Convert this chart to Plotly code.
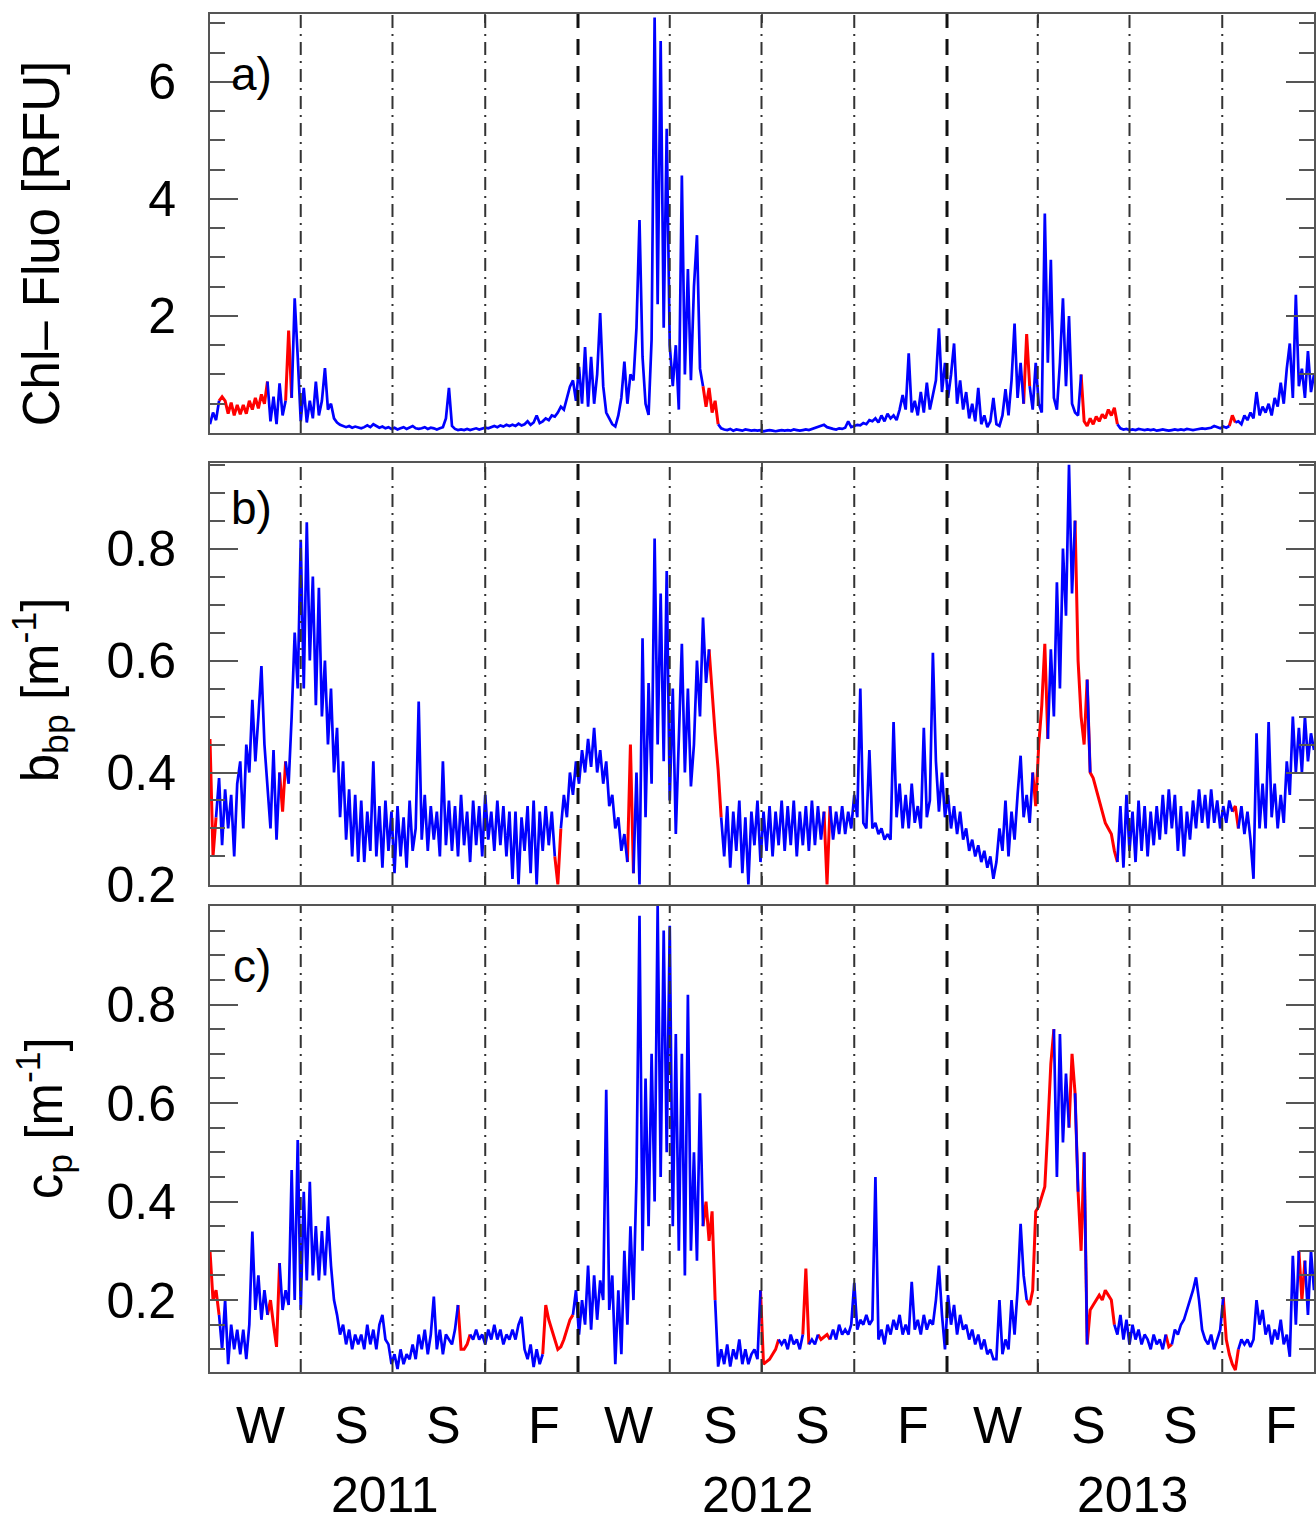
import datetime as dt
import plotly.graph_objects as go

# ---------------------------------------------------------------------------
# Time series, one sample every 3 days starting 2011-01-01 (366 samples)
# ---------------------------------------------------------------------------
SERIES_START = dt.date(2011, 1, 1)
STEP_DAYS = 3

# Chlorophyll fluorescence [RFU]
chl_fluo = [
    0.15, 0.35, 0.22, 0.55, 0.62, 0.55, 0.33, 0.52, 0.30, 0.48,
    0.32, 0.48, 0.33, 0.55, 0.40, 0.60, 0.42, 0.66, 0.50, 0.88,
    0.20, 0.62, 0.15, 0.85, 0.30, 0.55, 1.75, 0.60, 2.30, 1.30,
    0.20, 0.77, 0.18, 0.55, 0.25, 0.88, 0.30, 0.55, 1.11, 0.40,
    0.50, 0.25, 0.18, 0.14, 0.12, 0.10, 0.12, 0.09, 0.11, 0.10,
    0.08, 0.10, 0.13, 0.10, 0.15, 0.12, 0.09, 0.11, 0.08, 0.10,
    0.07, 0.09, 0.06, 0.08, 0.10, 0.07, 0.09, 0.12, 0.08, 0.07,
    0.08, 0.10, 0.07, 0.09, 0.08, 0.06, 0.08, 0.10, 0.25, 0.77,
    0.12, 0.07, 0.05, 0.06, 0.05, 0.07, 0.05, 0.06, 0.08, 0.06,
    0.07, 0.09, 0.08, 0.10, 0.12, 0.10, 0.13, 0.11, 0.14, 0.12,
    0.14, 0.12, 0.16, 0.13, 0.15, 0.20, 0.14, 0.18, 0.30, 0.17,
    0.20, 0.25, 0.22, 0.30, 0.28, 0.35, 0.45, 0.40, 0.60, 0.79,
    0.90, 0.55, 1.13, 0.50, 1.47, 0.45, 1.30, 0.50, 1.00, 2.05,
    0.80, 0.35, 0.25, 0.15, 0.11, 0.30, 0.60, 1.22, 0.50, 1.00,
    0.90, 1.80, 3.64, 1.30, 0.50, 0.31, 1.60, 7.10, 2.20, 6.70,
    1.80, 5.20, 1.50, 0.80, 1.50, 0.40, 4.40, 1.00, 2.80, 0.90,
    2.50, 3.38, 1.10, 0.80, 0.45, 0.77, 0.35, 0.55, 0.15, 0.08,
    0.06, 0.05, 0.07, 0.04, 0.06, 0.05, 0.04, 0.06, 0.05, 0.04,
    0.05, 0.04, 0.05, 0.03, 0.04, 0.05, 0.04, 0.03, 0.04, 0.05,
    0.04, 0.05, 0.04, 0.06, 0.05, 0.04, 0.05, 0.06, 0.05, 0.07,
    0.08, 0.10, 0.12, 0.14, 0.10, 0.08, 0.07, 0.06, 0.08, 0.07,
    0.09, 0.20, 0.10, 0.12, 0.14, 0.13, 0.17, 0.15, 0.22, 0.20,
    0.25, 0.18, 0.30, 0.20, 0.33, 0.25, 0.30, 0.22, 0.40, 0.65,
    0.40, 1.36, 0.35, 0.55, 0.30, 0.70, 0.35, 0.86, 0.40, 0.65,
    0.90, 1.79, 0.70, 1.20, 0.60, 1.00, 1.53, 0.50, 0.90, 0.40,
    0.70, 0.25, 0.50, 0.20, 0.77, 0.15, 0.30, 0.10, 0.20, 0.60,
    0.15, 0.12, 0.30, 0.75, 0.30, 0.90, 1.87, 0.60, 1.20, 0.50,
    1.69, 0.80, 0.40, 1.20, 0.50, 0.35, 3.75, 1.20, 2.96, 0.60,
    0.40, 1.20, 2.30, 0.80, 2.00, 0.50, 0.35, 0.30, 1.00, 0.20,
    0.12, 0.25, 0.15, 0.28, 0.20, 0.32, 0.25, 0.40, 0.30, 0.43,
    0.15, 0.08, 0.06, 0.07, 0.05, 0.06, 0.05, 0.07, 0.06, 0.05,
    0.06, 0.05, 0.06, 0.04, 0.05, 0.06, 0.05, 0.04, 0.05, 0.06,
    0.05, 0.06, 0.05, 0.07, 0.06, 0.05, 0.06, 0.07, 0.08, 0.07,
    0.08, 0.09, 0.12, 0.10, 0.08, 0.11, 0.09, 0.12, 0.30, 0.18,
    0.20, 0.15, 0.30, 0.22, 0.35, 0.25, 0.70, 0.30, 0.45, 0.35,
    0.50, 0.30, 0.60, 0.45, 0.86, 0.50, 1.10, 1.53, 0.60, 2.36,
    0.80, 1.10, 0.60, 1.40, 0.70, 1.00,
]

# Particulate backscattering b_bp [m^-1]
bbp = [
    0.46, 0.25, 0.32, 0.39, 0.27, 0.37, 0.30, 0.36, 0.25, 0.38,
    0.42, 0.30, 0.45, 0.40, 0.53, 0.42, 0.50, 0.59, 0.45, 0.38,
    0.30, 0.44, 0.28, 0.40, 0.33, 0.42, 0.38, 0.50, 0.65, 0.55,
    0.816, 0.55, 0.847, 0.60, 0.75, 0.52, 0.73, 0.50, 0.60, 0.45,
    0.55, 0.40, 0.48, 0.32, 0.42, 0.28, 0.37, 0.25, 0.36, 0.24,
    0.35, 0.24, 0.33, 0.26, 0.42, 0.25, 0.34, 0.23, 0.35, 0.26,
    0.33, 0.22, 0.34, 0.25, 0.32, 0.23, 0.35, 0.26, 0.30, 0.527,
    0.28, 0.36, 0.26, 0.34, 0.28, 0.33, 0.25, 0.42, 0.27, 0.35,
    0.26, 0.34, 0.25, 0.36, 0.27, 0.33, 0.24, 0.35, 0.27, 0.34,
    0.25, 0.36, 0.28, 0.33, 0.26, 0.35, 0.27, 0.34, 0.25, 0.33,
    0.21, 0.33, 0.20, 0.32, 0.26, 0.34, 0.22, 0.35, 0.20, 0.33,
    0.26, 0.34, 0.27, 0.33, 0.25, 0.20, 0.30, 0.36, 0.32, 0.40,
    0.36, 0.42, 0.38, 0.44, 0.40, 0.46, 0.41, 0.48, 0.40, 0.44,
    0.38, 0.42, 0.34, 0.36, 0.30, 0.32, 0.26, 0.29, 0.24, 0.45,
    0.22, 0.40, 0.20, 0.64, 0.32, 0.56, 0.38, 0.818, 0.45, 0.72,
    0.42, 0.76, 0.35, 0.55, 0.29, 0.48, 0.63, 0.40, 0.55, 0.375,
    0.45, 0.60, 0.50, 0.677, 0.56, 0.62, 0.54, 0.47, 0.405, 0.32,
    0.25, 0.34, 0.23, 0.33, 0.26, 0.35, 0.22, 0.32, 0.20, 0.33,
    0.27, 0.35, 0.24, 0.33, 0.26, 0.34, 0.25, 0.33, 0.27, 0.35,
    0.26, 0.34, 0.27, 0.35, 0.25, 0.33, 0.27, 0.34, 0.26, 0.35,
    0.27, 0.34, 0.28, 0.33, 0.20, 0.34, 0.28, 0.33, 0.29, 0.34,
    0.29, 0.33, 0.30, 0.36, 0.32, 0.55, 0.31, 0.30, 0.44, 0.30,
    0.31, 0.29, 0.30, 0.28, 0.29, 0.28, 0.49, 0.32, 0.38, 0.30,
    0.36, 0.30, 0.38, 0.31, 0.34, 0.30, 0.48, 0.32, 0.35, 0.614,
    0.42, 0.33, 0.40, 0.32, 0.36, 0.30, 0.34, 0.29, 0.33, 0.28,
    0.30, 0.26, 0.28, 0.25, 0.27, 0.24, 0.26, 0.23, 0.25, 0.21,
    0.24, 0.30, 0.26, 0.35, 0.25, 0.33, 0.28, 0.36, 0.43, 0.32,
    0.36, 0.31, 0.40, 0.34, 0.45, 0.52, 0.63, 0.46, 0.62, 0.50,
    0.74, 0.55, 0.80, 0.68, 0.95, 0.72, 0.85, 0.60, 0.50, 0.45,
    0.566, 0.40, 0.39, 0.37, 0.35, 0.33, 0.31, 0.30, 0.29, 0.26,
    0.24, 0.34, 0.23, 0.36, 0.26, 0.33, 0.24, 0.35, 0.26, 0.34,
    0.25, 0.33, 0.27, 0.34, 0.28, 0.36, 0.29, 0.37, 0.30, 0.36,
    0.26, 0.34, 0.25, 0.33, 0.28, 0.35, 0.30, 0.37, 0.31, 0.36,
    0.30, 0.37, 0.31, 0.35, 0.30, 0.34, 0.31, 0.35, 0.33, 0.34,
    0.30, 0.34, 0.29, 0.33, 0.28, 0.21, 0.47, 0.30, 0.38, 0.30,
    0.49, 0.32, 0.38, 0.30, 0.36, 0.31, 0.42, 0.36, 0.50, 0.40,
    0.48, 0.40, 0.50, 0.42, 0.47, 0.44,
]

# Particulate beam attenuation c_p [m^-1]
cp = [
    0.30, 0.20, 0.22, 0.17, 0.10, 0.20, 0.07, 0.15, 0.10, 0.14,
    0.09, 0.14, 0.08, 0.15, 0.339, 0.18, 0.25, 0.16, 0.22, 0.17,
    0.20, 0.15, 0.105, 0.275, 0.18, 0.22, 0.19, 0.464, 0.20, 0.525,
    0.18, 0.42, 0.24, 0.44, 0.25, 0.35, 0.24, 0.34, 0.25, 0.37,
    0.27, 0.20, 0.17, 0.13, 0.15, 0.11, 0.14, 0.10, 0.13, 0.11,
    0.13, 0.10, 0.15, 0.11, 0.14, 0.10, 0.15, 0.17, 0.12, 0.11,
    0.07, 0.09, 0.06, 0.10, 0.07, 0.09, 0.08, 0.11, 0.08, 0.13,
    0.10, 0.14, 0.09, 0.13, 0.207, 0.10, 0.14, 0.09, 0.13, 0.12,
    0.11, 0.14, 0.19, 0.10, 0.10, 0.11, 0.13, 0.12, 0.14, 0.12,
    0.13, 0.11, 0.14, 0.12, 0.15, 0.12, 0.14, 0.11, 0.13, 0.12,
    0.14, 0.12, 0.15, 0.166, 0.10, 0.08, 0.11, 0.064, 0.10, 0.07,
    0.09, 0.19, 0.16, 0.14, 0.12, 0.10, 0.105, 0.12, 0.14, 0.16,
    0.17, 0.22, 0.13, 0.20, 0.15, 0.27, 0.14, 0.25, 0.16, 0.24,
    0.20, 0.627, 0.18, 0.25, 0.07, 0.22, 0.09, 0.30, 0.15, 0.35,
    0.20, 0.45, 0.98, 0.30, 0.65, 0.35, 0.70, 0.40, 1.00, 0.45,
    0.95, 0.50, 0.96, 0.35, 0.74, 0.30, 0.70, 0.25, 0.82, 0.30,
    0.50, 0.28, 0.62, 0.35, 0.40, 0.32, 0.38, 0.20, 0.065, 0.10,
    0.07, 0.11, 0.065, 0.10, 0.08, 0.12, 0.07, 0.10, 0.07, 0.09,
    0.10, 0.08, 0.22, 0.07, 0.075, 0.08, 0.09, 0.10, 0.12, 0.11,
    0.12, 0.10, 0.13, 0.11, 0.12, 0.10, 0.13, 0.264, 0.11, 0.12,
    0.11, 0.13, 0.12, 0.125, 0.13, 0.12, 0.14, 0.12, 0.15, 0.13,
    0.14, 0.13, 0.15, 0.235, 0.14, 0.16, 0.15, 0.17, 0.15, 0.16,
    0.45, 0.12, 0.14, 0.11, 0.15, 0.13, 0.16, 0.14, 0.17, 0.13,
    0.15, 0.13, 0.237, 0.14, 0.16, 0.13, 0.17, 0.14, 0.16, 0.15,
    0.20, 0.27, 0.17, 0.10, 0.21, 0.15, 0.19, 0.13, 0.17, 0.14,
    0.15, 0.12, 0.14, 0.11, 0.13, 0.10, 0.12, 0.09, 0.10, 0.08,
    0.08, 0.20, 0.09, 0.12, 0.10, 0.20, 0.13, 0.22, 0.355, 0.25,
    0.20, 0.19, 0.22, 0.38, 0.39, 0.41, 0.43, 0.55, 0.68, 0.75,
    0.45, 0.74, 0.52, 0.66, 0.55, 0.70, 0.62, 0.42, 0.30, 0.50,
    0.11, 0.18, 0.19, 0.20, 0.21, 0.20, 0.22, 0.21, 0.20, 0.15,
    0.13, 0.17, 0.12, 0.16, 0.11, 0.15, 0.12, 0.14, 0.11, 0.13,
    0.12, 0.10, 0.13, 0.11, 0.12, 0.10, 0.13, 0.105, 0.11, 0.14,
    0.13, 0.15, 0.16, 0.18, 0.20, 0.22, 0.246, 0.20, 0.14, 0.12,
    0.11, 0.13, 0.10, 0.12, 0.14, 0.206, 0.12, 0.09, 0.07, 0.058,
    0.10, 0.12, 0.11, 0.12, 0.105, 0.12, 0.20, 0.15, 0.18, 0.13,
    0.15, 0.11, 0.14, 0.12, 0.16, 0.11, 0.13, 0.085, 0.29, 0.15,
    0.30, 0.20, 0.28, 0.17, 0.30, 0.22,
]

# Periods where gaps were filled (drawn in red)
chl_filled = [
    ("2011-01-13", "2011-02-24"), ("2011-03-20", "2011-03-20"),
    ("2012-05-07", "2012-05-16"), ("2013-03-21", "2013-03-21"),
    ("2013-05-17", "2013-06-16"), ("2013-10-11", "2013-10-11"),
]
bbp_filled = [
    ("2011-01-04", "2011-01-04"), ("2011-03-14", "2011-03-14"),
    ("2011-12-12", "2011-12-12"), ("2012-02-22", "2012-02-22"),
    ("2012-05-13", "2012-05-19"), ("2012-09-04", "2012-09-04"),
    ("2013-03-30", "2013-04-08"), ("2013-05-11", "2013-05-17"),
    ("2013-05-26", "2013-06-16"), ("2013-10-14", "2013-10-14"),
]
cp_filled = [
    ("2011-01-04", "2011-01-07"), ("2011-03-02", "2011-03-08"),
    ("2011-09-07", "2011-09-13"), ("2011-11-30", "2011-12-24"),
    ("2012-05-07", "2012-05-13"), ("2012-07-03", "2012-07-15"),
    ("2012-08-14", "2012-08-14"), ("2012-08-29", "2012-09-04"),
    ("2013-03-24", "2013-04-14"), ("2013-05-05", "2013-05-05"),
    ("2013-05-14", "2013-05-14"), ("2013-05-23", "2013-06-13"),
    ("2013-08-09", "2013-08-09"), ("2013-10-05", "2013-10-14"),
    ("2013-12-19", "2013-12-19"),
]

# Axis labels
years = [2011, 2012, 2013]
season_letters = ["W", "S", "S", "F"]
chl_ticks = [2, 4, 6]
optic_ticks = [0.2, 0.4, 0.6, 0.8]

# ---------------------------------------------------------------------------
FONT = "Liberation Sans, Arial, sans-serif"
AX_COLOR = "#555555"
BLUE = "#0000ff"
RED = "#ff0000"


def sample_dates(n):
    return [SERIES_START + dt.timedelta(days=STEP_DAYS * i) for i in range(n)]


def split_filled(values, dates, periods):
    spans = [(dt.date.fromisoformat(a), dt.date.fromisoformat(b)) for a, b in periods]
    filled = [any(a <= d <= b for a, b in spans) for d in dates]
    n = len(values)
    measured = [None if f else v for v, f in zip(values, filled)]
    gapfill = []
    for i, v in enumerate(values):
        near = filled[i] or (i > 0 and filled[i - 1]) or (i < n - 1 and filled[i + 1])
        gapfill.append(v if near else None)
    return measured, gapfill


fig = go.Figure()

panels = [
    (chl_fluo, chl_filled, "x", "y"),
    (bbp, bbp_filled, "x2", "y2"),
    (cp, cp_filled, "x3", "y3"),
]
for values, periods, xa, ya in panels:
    dates = sample_dates(len(values))
    xs = [d.isoformat() for d in dates]
    measured, gapfill = split_filled(values, dates, periods)
    fig.add_trace(go.Scatter(x=xs, y=gapfill, mode="lines", xaxis=xa, yaxis=ya,
                             line=dict(color=RED, width=3.0), showlegend=False,
                             connectgaps=False, hoverinfo="skip"))
    fig.add_trace(go.Scatter(x=xs, y=measured, mode="lines", xaxis=xa, yaxis=ya,
                             line=dict(color=BLUE, width=2.7), showlegend=False,
                             connectgaps=False))

# Plot area: 210..1316 px horizontally, 14..1372 px vertically
W, H = 1316, 1524
M_L, M_R, M_T, M_B = 210, 0, 14, 152
PLOT_H = H - M_T - M_B


def ydom(top_px, bottom_px):
    return [(H - M_B - bottom_px) / PLOT_H, (H - M_B - top_px) / PLOT_H]


x_common = dict(
    type="date", range=["2011-01-01", "2013-12-31"], showline=True, linewidth=2,
    linecolor=AX_COLOR, mirror="ticks", ticks="inside", ticklen=9, tickwidth=2,
    tickcolor=AX_COLOR, tickmode="linear", tick0="2011-01-01", dtick="M9",
    showticklabels=False, showgrid=False, zeroline=False,
)


def y_axis(domain, rng, major, labels, minor_vals):
    return dict(
        domain=domain, range=rng, tickmode="array", tickvals=major, ticktext=labels,
        ticks="inside", ticklen=28, tickwidth=2, tickcolor=AX_COLOR,
        showline=True, linewidth=2, linecolor=AX_COLOR, mirror="ticks",
        showgrid=False, zeroline=False, ticklabelstandoff=22,
        tickfont=dict(family=FONT, size=50, color="black"),
        minor=dict(tickmode="array", tickvals=minor_vals, ticks="inside", ticklen=15,
                   tickwidth=2, tickcolor=AX_COLOR, showgrid=False),
    )


chl_minor = [k * 0.5 for k in range(1, 15) if k % 4 != 0]
optic_minor = [round(k * 0.05, 2) for k in range(1, 21) if k % 4 != 0]
optic_labels = [f"{v:.1f}" for v in optic_ticks]

fig.update_layout(
    width=W, height=H, margin=dict(l=M_L, r=M_R, t=M_T, b=M_B),
    paper_bgcolor="white", plot_bgcolor="white",
    font=dict(family=FONT, color="black"),
    xaxis=dict(**x_common, anchor="y"),
    xaxis2=dict(**x_common, anchor="y2", matches="x"),
    xaxis3=dict(**x_common, anchor="y3", matches="x"),
    yaxis=y_axis(ydom(14, 433), [0, 7.16], chl_ticks, [str(v) for v in chl_ticks], chl_minor),
    yaxis2=y_axis(ydom(463, 885), [0.199, 0.953], optic_ticks, optic_labels, optic_minor),
    yaxis3=y_axis(ydom(906, 1372), [0.054, 1.0], optic_ticks, optic_labels, optic_minor),
)

# Season boundaries (dash-dot) and year boundaries (dashed)
shapes = []
for ya in ["y", "y2", "y3"]:
    xa = {"y": "x", "y2": "x2", "y3": "x3"}[ya]
    for yr in years:
        for month in (4, 7, 10):
            shapes.append(dict(type="line", xref=xa, yref=f"{ya} domain",
                               x0=f"{yr}-{month:02d}-01", x1=f"{yr}-{month:02d}-01",
                               y0=0, y1=1, layer="above",
                               line=dict(color="#333333", width=2, dash="13px,6px,2px,6px")))
        if yr > years[0]:
            shapes.append(dict(type="line", xref=xa, yref=f"{ya} domain",
                               x0=f"{yr}-01-01", x1=f"{yr}-01-01", y0=0, y1=1, layer="above",
                               line=dict(color="#111111", width=3, dash="16px,11px")))
fig.update_layout(shapes=shapes)

ann = []
# Panel letters
for txt, xa, ya, yy in [("a)", "x", "y", 0.857), ("b)", "x2", "y2", 0.893), ("c)", "x3", "y3", 0.871)]:
    ann.append(dict(text=txt, xref=f"{xa} domain", yref=f"{ya} domain", x=0.038, y=yy,
                    xanchor="center", yanchor="middle", showarrow=False,
                    font=dict(family=FONT, size=46, color="black")))


def py(px):
    return (H - M_B - px) / PLOT_H


def px_x(px):
    return (px - M_L) / (W - M_L - M_R)


# Y-axis titles
for txt, xc, yc in [("Chl\u2013 Fluo [RFU]", 42, 243),
                    ("b<sub>bp</sub> [m<sup>-1</sup>]", 40, 690),
                    ("c<sub>p</sub> [m<sup>-1</sup>]", 44, 1118)]:
    ann.append(dict(text=txt, xref="paper", yref="paper", x=px_x(xc), y=py(yc),
                    xanchor="center", yanchor="middle", textangle=-90, showarrow=False,
                    font=dict(family=FONT, size=51, color="black")))

# Season letters under each quarter, years under each year
year_shift = {2011: -9, 2012: -5, 2013: 2}
for yr in years:
    for q, letter in enumerate(season_letters):
        q_start = dt.date(yr, 3 * q + 1, 1)
        q_end = dt.date(yr + 1, 1, 1) if q == 3 else dt.date(yr, 3 * q + 4, 1)
        mid = q_start + (q_end - q_start) / 2
        ann.append(dict(text=letter, xref="x3", yref="paper", x=mid.isoformat(), y=py(1425),
                        xanchor="center", yanchor="middle", showarrow=False,
                        xshift=12 if letter == "F" else 5,
                        font=dict(family=FONT, size=52, color="black")))
    mid_year = dt.date(yr, 7, 2)
    ann.append(dict(text=str(yr), xref="x3", yref="paper", x=mid_year.isoformat(), y=py(1495),
                    xanchor="center", yanchor="middle", showarrow=False, xshift=year_shift[yr],
                    font=dict(family=FONT, size=50, color="black")))

fig.update_layout(annotations=ann)

fig.write_html("out.html")
